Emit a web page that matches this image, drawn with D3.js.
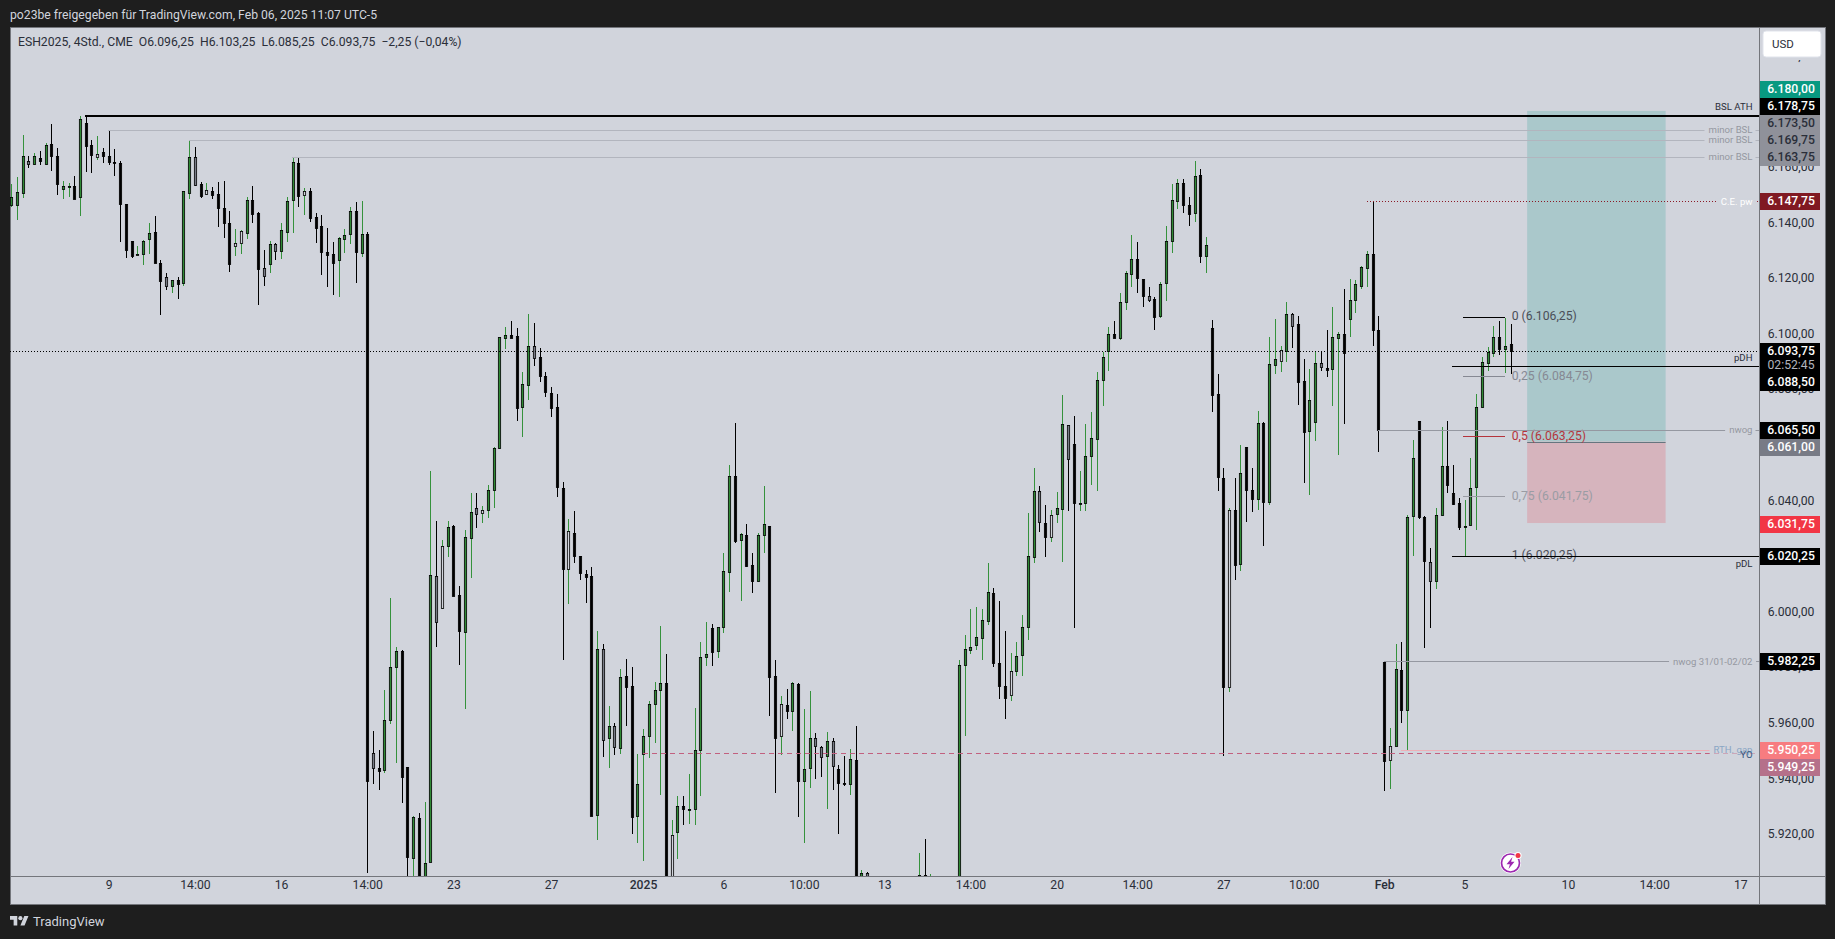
<!DOCTYPE html>
<html><head><meta charset="utf-8">
<script src="https://cdn.jsdelivr.net/npm/d3@7/dist/d3.min.js"></script>
<style>
html,body{margin:0;padding:0;background:#1e1e1e;overflow:hidden}
svg{display:block}
text{font-family:Roboto,"Noto Sans",sans-serif}
</style></head><body><svg id="c" width="1835" height="939"></svg>
<script>
// ---------- data: one entry per 4h bar, ten per line ----------
const highs=[
6153.8,6156.2,6171.4,6163.8,6164.8,6165.4,6168.4,6175.4,6166.6,6154.7,
6154.2,6156.6,6178.2,6178.6,6169.6,6170.8,6166.6,6173.1,6166.4,6161.8,
6146.6,6133.2,6131.4,6133.4,6139.6,6142.2,6126.2,6121.8,6119.2,6120.2,
6151.2,6169.6,6167.1,6154.6,6154.2,6152.6,6154.6,6154.7,6144.0,6137.6,
6137.2,6149.1,6153.0,6143.7,6130.0,6133.1,6132.4,6139.6,6149.1,6163.5,
6163.5,6152.2,6152.2,6143.2,6142.6,6137.8,6132.8,6134.6,6137.6,6145.4,
6147.2,6147.6,6136.4,5957.0,5950.2,5971.8,6004.9,5987.3,5986.2,5943.9,
5926.4,5927.4,5931.5,6050.6,6032.6,6025.8,6032.6,6031.1,6009.2,6029.4,
6042.7,6042.4,6038.0,6045.6,6059.2,6098.8,6102.2,6104.3,6101.8,6086.0,
6107.0,6103.7,6094.6,6086.0,6080.6,6078.0,6046.6,6033.2,6035.9,6020.0,
6014.9,6016.1,5993.0,5988.4,5966.0,5959.8,5979.4,5982.8,5980.1,5948.8,
5957.6,5967.7,5974.7,5994.8,5984.8,5925.0,5933.4,5933.6,5941.6,5965.3,
5989.1,5996.3,5995.6,5994.4,6020.8,6052.8,6067.9,6028.2,6031.4,6020.8,
6028.0,6045.2,6030.8,5982.6,5969.6,5972.2,5974.4,5974.2,5965.0,5971.4,
5956.2,5951.6,5956.7,5954.4,5944.8,5947.9,5950.6,5958.8,5907.0,5906.3,
5903,5900,5895,5892,5888,5896,5900,5903,5913.1,5918.2,
5905.4,5902,5898,5896,5900,5982.6,5991.6,6001.0,6001.7,6001.0,
6017.2,6008.5,6003.8,5992.9,5985.1,5989.1,5998.8,6035.2,6051.4,6045.2,
6038.3,6036.6,6043.0,6077.9,6066.9,6070.2,6050.6,6067.4,6071.7,6086.0,
6093.2,6102.3,6104.3,6114.4,6122.4,6135.4,6132.8,6119.4,6116.7,6113.0,
6118.5,6138.6,6153.8,6155.6,6155.6,6149.1,6162.0,6159.2,6134.7,6104.8,
6085.4,6051.4,6037.2,6047.8,6060.0,6059.1,6051.4,6072.2,6068.2,6098.7,
6105.2,6095.4,6111.3,6107.4,6106.2,6090.8,6087.3,6093.6,6093.2,6101.2,
6109.5,6100.5,6116.0,6119.4,6119.0,6124.2,6129.6,6147.2,6106.2,5982.0,
5958.0,5988.4,5989.1,6034.8,6061.6,6068.3,6034.4,6022.6,6037.3,6066.2,
6068.3,6052.8,6040.8,6040.0,6055.0,6078.0,6091.6,6095.2,6102.6,6104.4,
6105.6,6103.25];
const bodyHighs=[
6149.0,6150.8,6163.8,6161.9,6163.7,6163.0,6167.7,6168.0,6163.8,6152.9,
6152.9,6153.0,6177.2,6175.7,6167.8,6164.6,6165.2,6163.8,6161.6,6161.3,
6146.6,6133.2,6128.4,6133.1,6136.0,6136.5,6125.3,6120.2,6119.1,6119.0,
6151.1,6163.4,6163.4,6153.6,6151.4,6151.2,6150.0,6145.0,6139.6,6132.4,
6136.7,6148.0,6148.0,6143.3,6123.5,6132.0,6132.0,6137.1,6147.5,6161.6,
6161.2,6151.1,6151.1,6141.8,6138.5,6129.2,6128.4,6134.2,6135.5,6143.9,
6143.9,6135.6,6135.6,5949.0,5943.6,5960.9,5980.0,5985.7,5985.8,5943.9,
5926.1,5925.6,5909.4,6013.1,6012.7,6023.5,6030.4,6030.8,6005.9,6026.8,
6035.8,6037.2,6036.4,6043.7,6058.6,6098.6,6099.3,6099.3,6099.0,6081.6,
6095.3,6095.3,6091.4,6084.5,6078.6,6073.5,6044.4,6028.9,6028.2,6019.9,
6013.4,6012.7,5986.4,5986.4,5958.7,5958.7,5976.4,5976.8,5973.1,5937.8,
5955.1,5966.6,5971.7,5974.2,5974.2,5919.5,5929.9,5929.9,5928.8,5950.1,
5983.6,5984.5,5994.1,5994.4,6014.5,6048.8,6048.8,6027.7,6027.5,6016.7,
6027.5,6031.4,6030.8,5976.7,5966.6,5966.3,5974.2,5974.0,5943.2,5954.4,
5954.4,5951.3,5953.3,5953.3,5943.2,5938.2,5946.8,5946.6,5905.8,5905.8,
5897,5890,5886,5884,5878,5888,5894,5896,5905.1,5905.1,
5903.4,5896,5888,5886,5892,5980.8,5986.4,5987.2,5990.8,5996.9,
6007.0,6006.6,5981.4,5973.1,5978.5,5983.9,5994.4,6019.9,6043.3,6043.3,
6031.8,6034.7,6037.2,6067.4,6066.9,6060.2,6039.0,6055.7,6062.2,6083.1,
6091.4,6099.6,6099.6,6111.2,6121.6,6126.8,6126.6,6119.4,6113.3,6112.4,
6117.6,6133.1,6147.9,6154.0,6154.0,6146.1,6156.5,6156.9,6131.7,6101.9,
6078.0,6048.0,6036.6,6036.6,6049.8,6059.1,6043.8,6067.6,6067.6,6089.0,
6090.8,6094.0,6107.0,6107.0,6103.2,6082.8,6075.9,6089.2,6089.2,6087.4,
6098.6,6099.6,6099.6,6111.9,6117.6,6123.8,6128.4,6128.4,6101.1,5981.9,
5951.4,5979.2,5979.0,6034.0,6055.0,6068.3,6034.0,6017.6,6034.6,6052.4,
6052.4,6042.4,6038.8,6030.7,6044.4,6073.4,6089.6,6093.2,6098.6,6098.6,
6095.3,6096.25];
const bodyLows=[
6146.0,6146.3,6150.6,6160.7,6160.7,6161.8,6161.0,6163.6,6153.9,6151.7,
6152.8,6148.5,6149.2,6167.6,6164.2,6163.6,6163.8,6161.7,6161.1,6146.6,
6130.0,6127.8,6128.2,6128.6,6133.7,6125.3,6119.0,6116.8,6116.8,6117.6,
6117.9,6150.3,6153.4,6149.4,6149.9,6149.8,6144.8,6139.5,6124.8,6131.3,
6132.3,6136.2,6143.1,6123.3,6120.8,6124.7,6129.4,6129.4,6136.2,6147.9,
6149.2,6149.6,6141.5,6138.0,6129.0,6128.2,6125.1,6126.3,6134.1,6135.5,
6129.0,6128.7,5938.8,5943.6,5942.6,5942.8,5960.9,5979.8,5940.6,5911.4,
5911.4,5893.8,5894.0,5910.0,5996.0,6001.1,6023.4,6005.6,5992.8,5992.8,
6026.6,6034.9,6035.4,6036.4,6043.6,6058.5,6098.4,6098.4,6073.2,6073.2,
6081.2,6090.9,6084.4,6078.6,6073.2,6044.6,6015.2,6015.2,6019.8,6013.7,
6012.2,5926.4,5926.6,5953.6,5954.3,5951.0,5951.0,5973.0,5925.8,5926.2,
5948.5,5955.0,5966.5,5971.6,5896.2,5896.2,5920.4,5928.7,5928.7,5928.7,
5950.0,5983.4,5985.6,5985.6,5994.2,6014.4,6025.4,6025.7,6016.4,6010.8,
6010.8,6027.4,5976.5,5954.3,5955.0,5964.0,5964.0,5939.2,5938.8,5943.5,
5951.4,5947.8,5947.8,5944.2,5938.1,5938.1,5937.7,5892.6,5892.6,5891.4,
5888,5880,5878,5872,5868,5878,5884,5888,5892.6,5892.6,
5893.8,5888,5880,5878,5880,5892.6,5980.6,5986.3,5988.1,5990.6,
5996.4,5981.3,5973.0,5968.9,5969.8,5978.4,5984.2,5994.2,6019.7,6032.2,
6026.6,6026.9,6034.9,6036.7,6054.5,6038.9,6038.5,6038.9,6055.6,6061.7,
6083.0,6093.4,6098.3,6098.4,6111.0,6121.5,6119.7,6113.2,6111.8,6106.0,
6106.0,6117.9,6133.0,6147.4,6146.0,6142.7,6143.1,6127.6,6127.6,6077.8,
6048.0,5973.0,5973.0,6016.8,6017.2,6043.6,6040.7,6040.3,6039.2,6039.2,
6088.7,6090.2,6093.8,6102.8,6082.2,6064.6,6064.6,6067.8,6087.6,6086.8,
6087.0,6098.3,6092.8,6105.2,6111.8,6117.0,6123.3,6101.0,6065.0,5946.4,
5946.4,5951.4,5964.6,5964.6,6034.0,6033.6,6018.0,6010.8,6010.9,6034.6,
6045.5,6038.4,6030.2,6030.6,6031.0,6044.6,6073.4,6089.4,6092.8,6094.4,
6094.2,6093.75];
const lows=[
6145.6,6140.6,6148.7,6159.6,6160.6,6160.6,6160.6,6158.4,6149.6,6148.2,
6149.0,6148.4,6142.2,6158.2,6157.8,6162.4,6161.4,6160.6,6156.6,6133.0,
6127.1,6127.1,6128.1,6124.6,6128.6,6125.2,6106.6,6115.6,6114.6,6112.4,
6117.0,6148.4,6153.0,6148.7,6149.6,6148.4,6138.4,6134.3,6122.2,6127.8,
6128.6,6134.0,6139.6,6110.3,6117.0,6121.8,6126.2,6126.9,6132.9,6136.2,
6145.6,6142.6,6140.2,6132.4,6121.0,6116.8,6113.8,6113.2,6129.0,6132.0,
6118.2,6127.6,5906.0,5938.0,5935.8,5942.0,5959.6,5945.3,5930.9,5899.8,
5901.0,5891.4,5890.0,5910.0,5987.0,6001.0,6019.7,6005.4,5980.8,5964.7,
6011.9,6029.8,6031.6,6033.4,6037.3,6058.4,6094.4,6098.3,6068.6,6062.8,
6076.1,6088.2,6082.5,6077.1,6069.9,6041.0,5982.6,6002.8,6017.2,6011.2,
6003.1,5926.2,5917.8,5947.7,5943.7,5948.2,5948.8,5958.6,5920.0,5916.8,
5910.2,5947.4,5952.6,5934.1,5893.8,5895.0,5911.0,5923.2,5923.6,5923.2,
5933.6,5980.4,5980.4,5983.3,5992.3,6007.1,6024.7,6003.8,6016.1,6006.7,
6010.7,6020.8,5962.4,5934.7,5948.2,5961.4,5957.0,5926.1,5916.8,5936.5,
5939.8,5940.5,5929.0,5935.8,5920.0,5937.0,5934.0,5889.0,5887.8,5887.8,
5882,5872,5870,5866,5860,5870,5880,5882,5889.0,5886.6,
5891.4,5880,5874,5870,5876,5891.4,5955.2,5984.8,5986.2,5982.6,
5995.0,5980.1,5968.6,5961.4,5967.8,5976.7,5976.8,5989.8,6017.5,6028.7,
6019.7,6025.1,6031.6,6017.9,6036.2,5994.1,6035.9,6035.9,6045.4,6043.1,
6073.8,6086.4,6098.3,6097.6,6108.4,6116.8,6114.4,6109.5,6111.3,6101.2,
6105.5,6111.6,6128.9,6144.8,6143.3,6138.6,6140.1,6125.3,6121.7,6071.7,
6043.2,5947.8,5970.8,6011.4,6014.6,6032.0,6035.8,6036.6,6023.4,6038.4,
6085.4,6086.1,6089.8,6094.8,6074.2,6046.0,6042.0,6061.4,6086.6,6084.4,
6073.8,6056.2,6067.4,6098.8,6107.4,6116.1,6116.6,6095.4,6057.4,5935.2,
5936.2,5951.4,5959.8,5949.8,6019.8,6033.2,5986.7,5993.9,6008.0,6034.2,
6042.4,6038.3,6029.4,6020.0,6030.6,6029.4,6073.1,6086.4,6091.6,6092.2,
6085.8,6085.25];
// u up, d down, g grey-filled down, h hollow up
const barKinds=("uuugududdu"+"ududdhdddd"+"dduuuddgud"+"uugdhddddh"+"huddguguuu"+"dhddddduuu"+
"dudgduuudd"+"uduughuddu"+"ughuuuuddu"+"ugdddddhdd"+"ddugugu"+"ddu"+"uuuudhuduu"+"uuduuududd"+
"uuddhduduu"+"ggugddudug"+"dduduuuuud"+"udduuuuuuu"+"udddhuuuug"+"dhuugduuuu"+"uuduuuddgd"+
"uuuuddudud"+"ddhduddudu"+"uhugdduugd"+"uuduuuuddd"+"huduuddguu"+"ddduuuuuud"+"ud").split("");

const priceTicks=[6200,6160,6140,6120,6100,6080,6060,6040,6020,6000,5980,5960,5940,5920];
const timeTickBars=[17,32,47,62,77,94,110,124,138,152,167,182,196,211,225,239,253,271,286,301];
const timeTickLabels=["9","14:00","16","14:00","23","27","2025","6","10:00","13","14:00","20","14:00","27","10:00","Feb","5","10","14:00","17"];
const boldTimeTicks=["2025","Feb"];

const levelNames=["BSL ATH","minor BSL","minor BSL","minor BSL","C.E. pw","pDH","nwog","pDL","nwog 31/01-02/02","RTH. gap","YO"];
const levelPrices=[6178.75,6173.5,6169.75,6163.75,6147.75,6088.5,6065.5,6020.25,5982.25,5950.25,5949.25];
const levelStartBars=[12.9,16.9,30.9,48.9,236,250.8,238,250.8,239,242,110];

const fibLabels=["0 (6.106,25)","0,25 (6.084,75)","0,5 (6.063,25)","0,75 (6.041,75)","1 (6.020,25)"];
const fibPrices=[6106.25,6084.75,6063.25,6041.75,6020.25];

const targetPrice=6180, entryPrice=6061, stopPrice=6031.75;
const lastPrice=6093.75, countdown="02:52:45";
const tagPrices=[6180,6178.75,6173.5,6169.75,6163.75,6147.75,6093.75,6088.5,6065.5,6061,6031.75,6020.25,5982.25,5950.25,5949.25];

// ---------- styling tables (separate from the values) ----------
const W=1835,H=939,L=10,T=27,R=1759,B=876,AXR=1825,AXB=904;
const bg="#d1d4dc", dark="#1e1e1e", frame="#74767c";
const tagStyle={6180:["#089981","#fff"],6178.75:["#000","#fff"],6173.5:["#8f919a","#2a2e39"],6169.75:["#8f919a","#2a2e39"],6163.75:["#8f919a","#2a2e39"],
 6147.75:["#801922","#fff"],6093.75:["#000","#fff"],6088.5:["#000","#fff"],6065.5:["#000","#fff"],6061:["#787b86","#fff"],
 6031.75:["#f23645","#fff"],6020.25:["#000","#fff"],5982.25:["#000","#fff"],5950.25:["#f77c80","#fff"],5949.25:["#b5708a","#fff"]};
const levelStyle=[
 {c:"#000",w:2,t:"#2a2e39",dy:-6.5,box:false},
 {c:"#b2b5be",w:1,t:"#9598a1",dy:1.5,box:true},
 {c:"#b2b5be",w:1,t:"#9598a1",dy:1.5,box:true},
 {c:"#b2b5be",w:1,t:"#9598a1",dy:1.5,box:true},
 {c:"#8b1a26",w:1,dash:"1 2",t:"#fff",dy:1.5,box:true},
 {c:"#000",w:1,t:"#2a2e39",dy:-6.5,box:false},
 {c:"#9598a1",w:1,t:"#9598a1",dy:1.5,box:true},
 {c:"#000",w:1,t:"#2a2e39",dy:9.5,box:false},
 {c:"#9598a1",w:1,t:"#9598a1",dy:1.5,box:true},
 {c:"#eeb0b8",w:1,t:"#8aa6c4",dy:1,box:true,end:1712},
 {c:"#c2607f",w:1,dash:"5 4",t:"#35587f",dy:3,box:false}];
const fibStyle=[["#000","#4a4e58"],["#868993","#868993"],["#b5343c","#b5343c"],["#9a9ca4","#9a9ca4"],["#000","#4a4e58"]];

// ---------- scales ----------
const x=d3.scaleLinear().domain([0,261]).range([11.07,1510.5]);
const y=d3.scaleLinear().domain([5920,6160]).range([833.7,166.5]);
const de=d3.formatLocale({decimal:",",thousands:".",grouping:[3],currency:["","€"]});
const fmt=de.format(",.2f");
const crisp=v=>Math.round(v)+.5;
const lineY=p=>Math.round(y(p)+.6)+.5;

const svg=d3.select("#c");
svg.append("rect").attr("width",W).attr("height",H).attr("fill",dark);
svg.append("rect").attr("x",L).attr("y",T).attr("width",AXR-L).attr("height",AXB-T).attr("fill",bg).attr("stroke",frame).attr("shape-rendering","crispEdges");
svg.append("defs").append("clipPath").attr("id","plot").append("rect").attr("x",L).attr("y",T).attr("width",R-L).attr("height",B-T);

// header
svg.append("text").attr("x",10).attr("y",19).attr("fill","#d1d4dc").attr("font-size",12.2).text("po23be freigegeben für TradingView.com, Feb 06, 2025 11:07 UTC-5");
svg.append("text").attr("x",18).attr("y",46).attr("fill","#2a2e39").attr("font-size",12.2).attr("xml:space","preserve")
 .text("ESH2025, 4Std., CME  O6.096,25  H6.103,25  L6.085,25  C6.093,75  −2,25 (−0,04%)");

// price tick axis (drawn before tags so tags cover it)
const yAxis=d3.axisRight(y).tickValues(priceTicks).tickFormat(fmt).tickSize(0).tickPadding(0);
const ya=svg.append("g").attr("transform",`translate(1791,0)`).call(yAxis);
ya.select(".domain").remove();
ya.selectAll("text").attr("text-anchor","middle").attr("fill","#2a2e39").attr("font-size",12.2).attr("font-family","Roboto");

// time axis
const xAxis=d3.axisBottom(x).tickValues(timeTickBars).tickFormat((d,i)=>timeTickLabels[i]).tickSize(0).tickPadding(0);
const xa=svg.append("g").attr("transform",`translate(0,884)`).call(xAxis);
xa.select(".domain").remove();
xa.selectAll("text").attr("fill","#2a2e39").attr("font-size",12.2).attr("font-family","Roboto")
 .attr("font-weight",(d,i)=>boldTimeTicks.includes(timeTickLabels[i])?500:400).attr("dy","0.4em");

// axis dividers
const frameLines=svg.append("g").attr("stroke",frame).attr("shape-rendering","crispEdges");
frameLines.append("line").attr("x1",L).attr("x2",AXR).attr("y1",B+.5).attr("y2",B+.5);
frameLines.append("line").attr("x1",R+.5).attr("x2",R+.5).attr("y1",T).attr("y2",AXB);

const plot=svg.append("g").attr("clip-path","url(#plot)");

// position box
plot.append("rect").attr("x",x(263.9)).attr("width",x(288)-x(263.9)).attr("y",y(targetPrice)).attr("height",y(entryPrice)-y(targetPrice)).attr("fill","#aac8cb");
plot.append("rect").attr("x",x(263.9)).attr("width",x(288)-x(263.9)).attr("y",y(entryPrice)).attr("height",y(stopPrice)-y(entryPrice)).attr("fill","#d6b4bd");
plot.append("line").attr("x1",x(263.9)).attr("x2",x(288)).attr("y1",lineY(entryPrice)).attr("y2",lineY(entryPrice)).attr("stroke","#66757f").attr("stroke-width",1);

// candles
const candles=plot.append("g").selectAll("g").data(highs.map((h,i)=>i)).join("g");
const isGreen=i=>barKinds[i]==="u"||barKinds[i]==="h";
candles.append("line").attr("shape-rendering","crispEdges")
 .attr("x1",i=>crisp(x(i))).attr("x2",i=>crisp(x(i))).attr("y1",i=>y(highs[i])).attr("y2",i=>y(lows[i]))
 .attr("stroke",i=>isGreen(i)?"#35923c":"#000");
const bodyFill={u:"#2f8a35",d:"#000",g:"#787b86",h:"#d1d4dc"};
candles.append("rect")
 .attr("x",i=>crisp(x(i))-1.15).attr("width",2.3)
 .attr("y",i=>crisp(y(bodyHighs[i])))
 .attr("height",i=>Math.max(1,Math.round(y(bodyLows[i])-y(bodyHighs[i]))))
 .attr("fill",i=>bodyFill[barKinds[i]]).attr("stroke","#000").attr("stroke-width",.8);

// last-price dotted line
plot.append("line").attr("x1",L).attr("x2",R).attr("y1",lineY(lastPrice)).attr("y2",lineY(lastPrice)).attr("stroke","#000").attr("stroke-dasharray","1 2").attr("shape-rendering","crispEdges");

// fib
fibPrices.forEach((p,i)=>{
  plot.append("line").attr("x1",x(252.7)).attr("x2",x(260)).attr("y1",lineY(p)).attr("y2",lineY(p)).attr("stroke",fibStyle[i][0]).attr("shape-rendering","crispEdges");
  plot.append("text").attr("x",x(260)+7).attr("y",y(p)+1.2).attr("dominant-baseline","middle").attr("fill",fibStyle[i][1]).attr("font-size",12.2).text(fibLabels[i]);
});

// levels
levelPrices.forEach((p,i)=>{
  const s=levelStyle[i], yy=lineY(p);
  plot.append("line").attr("x1",x(levelStartBars[i])).attr("x2",s.end||R).attr("y1",yy).attr("y2",yy)
    .attr("stroke",s.c).attr("stroke-width",s.w).attr("stroke-dasharray",s.dash||null).attr("shape-rendering","crispEdges");
});
levelPrices.forEach((p,i)=>{
  const s=levelStyle[i], yy=y(p)+s.dy;
  const t=plot.append("text").attr("x",1752.5).attr("y",yy).attr("text-anchor","end").attr("dominant-baseline","middle").attr("fill",s.t).attr("font-size",9.6).text(levelNames[i]);
  if(s.box){
    const b=t.node().getBBox();
    plot.insert("rect",()=>t.node()).attr("x",b.x-4).attr("y",y(p)-2).attr("width",b.width+7).attr("height",6).attr("fill",bg);
  }
});

// price tags with collision push
const tags=tagPrices.map(p=>({p,y:y(p)+1})).sort((a,b)=>b.p-a.p);
const tagH=17, stackFloor=6163.75;
const upper=tags.filter(t=>t.p>=stackFloor), lower=tags.filter(t=>t.p<stackFloor);
for(let i=upper.length-2;i>=0;i--) upper[i].y=Math.min(upper[i].y,upper[i+1].y-tagH);
let edge=-Infinity;
lower.forEach(t=>{
  t.y=Math.max(t.y,edge+tagH/2);
  t.bottom=t.y+tagH/2+(t.p===lastPrice?14:0);
  edge=t.bottom;
});
const tagG=svg.append("g");
tags.forEach(t=>{
  const st=tagStyle[t.p], h=tagH+(t.p===lastPrice?14:0);
  tagG.append("rect").attr("x",R+1).attr("y",t.y-tagH/2).attr("width",60).attr("height",h).attr("fill",st[0]).attr("shape-rendering","crispEdges");
});
tags.forEach(t=>{
  const st=tagStyle[t.p];
  tagG.append("text").attr("x",1791).attr("y",t.y+.5).attr("text-anchor","middle").attr("dominant-baseline","middle").attr("fill",st[1]).attr("font-size",12.2).attr("font-weight",500).text(fmt(t.p));
  if(t.p===lastPrice) tagG.append("text").attr("x",1791).attr("y",t.y+14.5).attr("text-anchor","middle").attr("dominant-baseline","middle").attr("fill","#b2b5be").attr("font-size",12.2).text(countdown);
});

// currency button (its halo covers the top tick's digits)
svg.append("rect").attr("x",R+1).attr("y",28).attr("width",65).attr("height",32).attr("fill",bg);
svg.append("rect").attr("x",1763).attr("y",31).attr("width",58).attr("height",26).attr("rx",3).attr("fill","#fff").attr("stroke","#e0e3eb");
svg.append("text").attr("x",1772).attr("y",48).attr("fill","#2a2e39").attr("font-size",11.5).text("USD");

// lightning icon
const icon=svg.append("g").attr("transform",`translate(${x(261)},863)`);
icon.append("circle").attr("r",10.5).attr("fill","#fff");
icon.append("circle").attr("r",9).attr("fill","#fff").attr("stroke","#9c27b0").attr("stroke-width",1.7);
icon.append("path").attr("d","M2,-6 L-4,1.2 L-0.6,1.2 L-2,6 L4,-1.2 L0.6,-1.2 Z").attr("fill","#9c27b0");
icon.append("circle").attr("cx",7.5).attr("cy",-7.5).attr("r",3.6).attr("fill","#fff");
icon.append("circle").attr("cx",7.5).attr("cy",-7.5).attr("r",2.5).attr("fill","#f23645");

// footer logo
svg.append("g").attr("transform","translate(10,914) scale(.52)").attr("fill","#d1d4dc")
 .html('<path d="M14 22H7V11H0V4h14v18zM28 22h-8l7.5-18h8L28 22z"/><circle cx="20" cy="8" r="4"/>');
svg.append("text").attr("x",33).attr("y",926).attr("fill","#d1d4dc").attr("font-size",13).text("TradingView");
</script></body></html>
